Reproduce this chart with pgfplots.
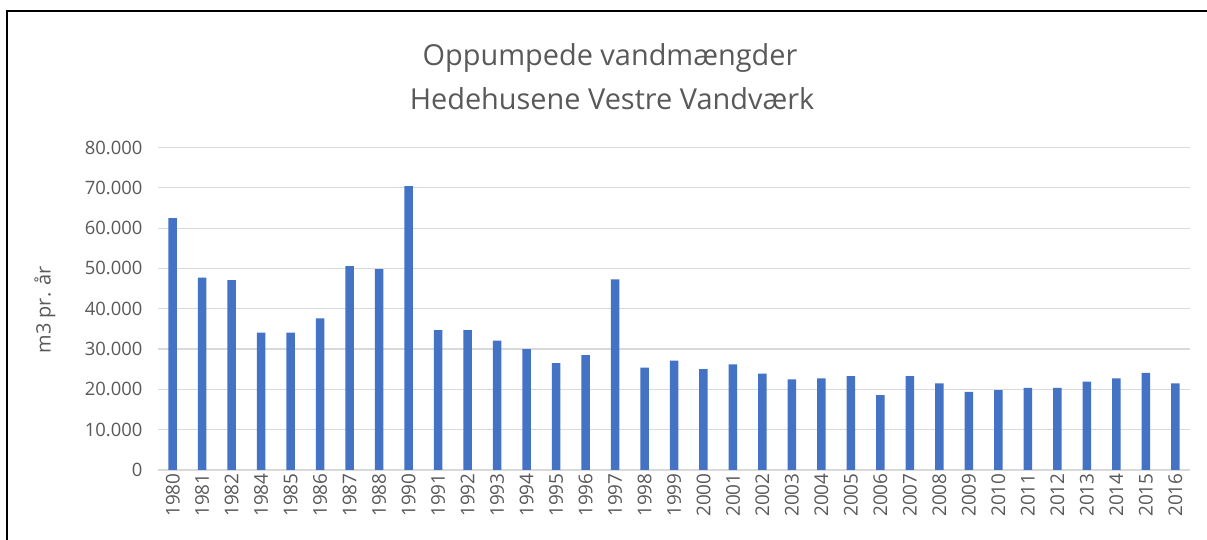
\documentclass[border=0pt]{standalone}
\usepackage{pgfplots}
\pgfplotsset{compat=1.18}
\usepackage{fontspec}
\setmainfont{Open Sans}
\definecolor{barblue}{HTML}{4472C4}
\definecolor{txt}{HTML}{595959}
\definecolor{gridc}{HTML}{D9D9D9}
\begin{document}
\begin{tikzpicture}[x=1bp,y=1bp]
\useasboundingbox (0,0) rectangle (1207,540);
\fill[white] (0,0) rectangle (1207,540);
\draw[black, line width=2.5bp] (7,0) -- (7,529) -- (1207,529);
\node[txt, font=\fontsize{29}{32}\selectfont, anchor=base] at (610,474) {Oppumpede vandmængder};
\node[txt, font=\fontsize{29}{32}\selectfont, anchor=base] at (612,430) {Hedehusene Vestre Vandværk};
\node[txt, font=\fontsize{20}{22}\selectfont, rotate=90, anchor=center] at (45,230) {m3 pr. år};
\begin{axis}[
  at={(158bp,70bp)}, anchor=south west,
  scale only axis, width=1032bp, height=322.5bp,
  ybar, bar width=8.5bp,
  xmin=-0.5, xmax=34.5,
  ymin=0, ymax=80000,
  ytick={0,10000,20000,30000,40000,50000,60000,70000,80000},
  scaled y ticks=false,
  /pgf/number format/.cd, 1000 sep={.}, assume math mode=true, /pgfplots/.cd,
  xtick=data,
  xticklabels={1980,1981,1982,1984,1985,1986,1987,1988,1990,1991,1992,1993,1994,1995,1996,1997,1998,1999,2000,2001,2002,2003,2004,2005,2006,2007,2008,2009,2010,2011,2012,2013,2014,2015,2016},
  major tick length=0pt,
  axis line style={draw=none},
  ymajorgrids, grid style={gridc, line width=1.2bp},
  ticklabel style={txt},
  xticklabel style={rotate=90, anchor=east, font=\fontsize{19}{20}\selectfont},
  yticklabel style={anchor=east, xshift=-12bp, font=\fontsize{18.5}{20}\selectfont},
  clip=false,
]
\addplot[fill=barblue, draw=none] coordinates {
(0,62500) (1,47700) (2,47100) (3,34100) (4,34100) (5,37600) (6,50600) (7,49800) (8,70400)
(9,34700) (10,34700) (11,32100) (12,30000) (13,26500) (14,28500) (15,47300) (16,25400)
(17,27100) (18,25000) (19,26200) (20,23900) (21,22500) (22,22700) (23,23300) (24,18600)
(25,23300) (26,21500) (27,19400) (28,19800) (29,20400) (30,20400) (31,21900) (32,22700)
(33,24100) (34,21500)
};
\end{axis}
\end{tikzpicture}
\end{document}
